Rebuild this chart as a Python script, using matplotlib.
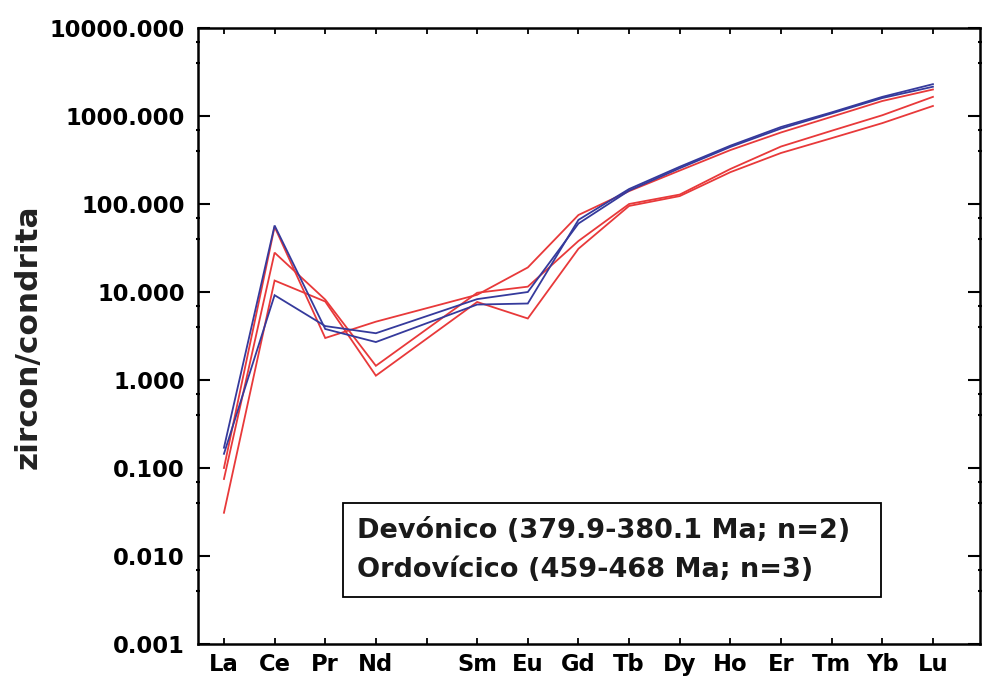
import matplotlib
matplotlib.use("Agg")
import matplotlib.pyplot as plt
from matplotlib.lines import Line2D
from matplotlib.ticker import FixedLocator, NullFormatter, FormatStrFormatter

# REE axis: 15 slots, Pm left unlabelled and without data
tick_labels = ["La", "Ce", "Pr", "Nd", "", "Sm", "Eu", "Gd", "Tb", "Dy", "Ho", "Er", "Tm", "Yb", "Lu"]
elements = ["La", "Ce", "Pr", "Nd", "Sm", "Eu", "Gd", "Tb", "Dy", "Ho", "Er", "Tm", "Yb", "Lu"]

# chondrite-normalised zircon REE patterns
devonian_1 = [0.17, 57, 3.8, 2.7, 7.2, 7.4, 66, 148, 265, 460, 750, 1100, 1650, 2300]
devonian_2 = [0.145, 9.2, 4.1, 3.4, 8.3, 10.0, 60, 142, 255, 445, 720, 1070, 1600, 2150]
ordovician_1 = [0.10, 55, 3.0, 4.6, 9.3, 19.0, 75, 140, 240, 410, 650, 980, 1480, 2000]
ordovician_2 = [0.075, 28, 8.2, 1.45, 9.8, 11.5, 38, 100, 128, 250, 450, 680, 1020, 1650]
ordovician_3 = [0.031, 13.5, 7.8, 1.12, 7.7, 5.0, 31, 95, 123, 230, 380, 560, 830, 1300]

y_ticks = [0.001, 0.01, 0.1, 1, 10, 100, 1000, 10000]
legend_labels = ["Devónico (379.9-380.1 Ma; n=2)", "Ordovícico (459-468 Ma; n=3)"]
y_label = "zircon/condrita"

RED = "#e8393a"
BLUE = "#353a9c"

plt.rcParams["font.family"] = ["DejaVu Sans"]
plt.rcParams["font.weight"] = "bold"

fig = plt.figure(figsize=(9.82, 6.81), dpi=100)
ax = fig.add_axes([0.2016, 0.0543, 0.7964, 0.9046])

slot = {lab: i + 1 for i, lab in enumerate(tick_labels) if lab}
xs = [slot[e] for e in elements]

for series in (ordovician_1, ordovician_2, ordovician_3):
    ax.plot(xs, series, color=RED, lw=1.3, solid_joinstyle="miter")
for series in (devonian_1, devonian_2):
    ax.plot(xs, series, color=BLUE, lw=1.3, solid_joinstyle="miter")

ax.set_yscale("log")
ax.set_ylim(y_ticks[0], y_ticks[-1])
ax.set_xlim(0.487, 15.93)

minor = [m * t for t in y_ticks[:-1] for m in (4.0, 7.0)]
ax.yaxis.set_major_locator(FixedLocator(y_ticks))
ax.yaxis.set_minor_locator(FixedLocator(minor))
ax.yaxis.set_major_formatter(FormatStrFormatter("%.3f"))
ax.yaxis.set_minor_formatter(NullFormatter())

ax.xaxis.set_major_locator(FixedLocator(range(1, len(tick_labels) + 1)))
ax.set_xticklabels(tick_labels)

for s in ax.spines.values():
    s.set_linewidth(1.8)

ax.tick_params(axis="y", which="major", direction="in", length=8.5, width=1.5,
               left=True, right=True, labelsize=16.3, pad=9.5)
ax.tick_params(axis="y", which="minor", direction="inout", length=3.5, width=1.5,
               left=True, right=True)
ax.tick_params(axis="x", which="major", direction="in", length=4.5, width=1.3,
               bottom=True, top=True, labelsize=16.3, pad=6.5)

fig.text(28 / 982, 1 - 337 / 681, y_label, rotation=90, ha="center", va="center",
         fontsize=22.5, fontweight="bold", color="#222222")

handles = [Line2D([], [], linestyle="none") for _ in legend_labels]
leg = ax.legend(handles, legend_labels, loc="lower left",
                bbox_to_anchor=(0.185, 0.076, 0.688, 0.153), mode="expand",
                borderaxespad=0, handlelength=0, handletextpad=0,
                fontsize=19.5, fancybox=False, framealpha=1, edgecolor="black",
                borderpad=0.53, labelspacing=0.49)
leg.get_frame().set_linewidth(1.3)
for t in leg.get_texts():
    t.set_fontweight("bold")
    t.set_color("#1a1a1a")

fig.savefig("out.png", dpi=100)
